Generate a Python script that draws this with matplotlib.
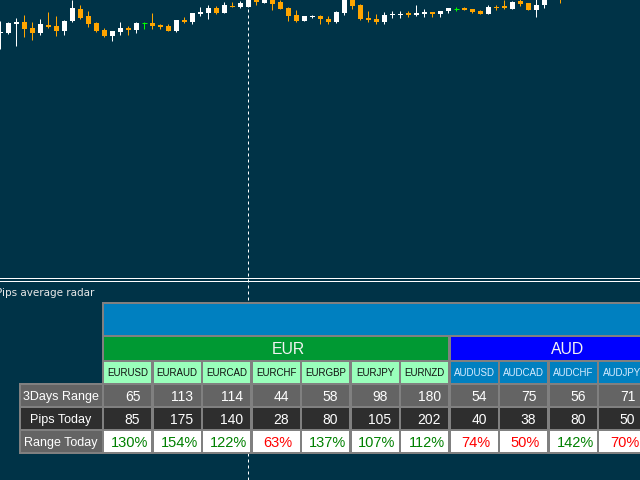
import numpy as np
import matplotlib
matplotlib.use('Agg')
import matplotlib.pyplot as plt
from matplotlib.patches import Rectangle

# --- price bars (EURUSD M-chart) ---
opens = [1.0967, 1.0967, 1.0976, 1.0978, 1.0972, 1.0967, 1.0975, 1.0974, 1.0969, 1.0979,
         1.0991, 1.0984, 1.0977, 1.0970, 1.0964, 1.0968, 1.0972, 1.0970, 1.0977, 1.0977,
         1.0975, 1.0974, 1.0969, 1.0980, 1.0978, 1.0986, 1.0987, 1.0992, 1.0987, 1.0994,
         1.0993, 1.0993, 1.1001, 1.0997, 1.1001, 1.0998, 1.0992, 1.0985, 1.0979, 1.0983,
         1.0984, 1.0981, 1.0978, 1.0987, 1.1002, 1.0995, 1.0982, 1.0981, 1.0978, 1.0985,
         1.0985, 1.0987, 1.0985, 1.0986, 1.0988, 1.0986, 1.0989, 1.0991, 1.0992, 1.0991,
         1.0989, 1.0986, 1.0993, 1.0994, 1.0991, 1.0999, 1.0997, 1.0990, 1.0995, 1.1005,
         1.1008]
highs = [1.0979, 1.0978, 1.0982, 1.0985, 1.0978, 1.0981, 1.0988, 1.0984, 1.0980, 1.1000,
         1.0995, 1.0989, 1.0978, 1.0972, 1.0969, 1.0978, 1.0974, 1.0978, 1.0978, 1.0987,
         1.0976, 1.0976, 1.0980, 1.0983, 1.0987, 1.0993, 1.0995, 1.0994, 1.0998, 1.0998,
         1.0999, 1.1002, 1.1002, 1.1003, 1.1002, 1.1000, 1.0993, 1.0990, 1.0984, 1.0985,
         1.0985, 1.0984, 1.0989, 1.1001, 1.1003, 1.0996, 1.0989, 1.0986, 1.0988, 1.0989,
         1.0989, 1.0989, 1.0995, 1.0991, 1.0988, 1.0989, 1.0992, 1.0993, 1.0993, 1.0991,
         1.0990, 1.0995, 1.0995, 1.1000, 1.0999, 1.1001, 1.0997, 1.1001, 1.1006, 1.1016,
         1.1012]
lows = [1.0951, 1.0966, 1.0954, 1.0963, 1.0960, 1.0965, 1.0972, 1.0964, 1.0965, 1.0978,
        1.0981, 1.0973, 1.0968, 1.0963, 1.0959, 1.0965, 1.0965, 1.0967, 1.0971, 1.0971,
        1.0971, 1.0969, 1.0968, 1.0977, 1.0976, 1.0984, 1.0981, 1.0986, 1.0987, 1.0993,
        1.0992, 1.0993, 1.0995, 1.0997, 1.0990, 1.0991, 1.0979, 1.0978, 1.0979, 1.0982,
        1.0976, 1.0976, 1.0977, 1.0985, 1.0991, 1.0980, 1.0978, 1.0976, 1.0976, 1.0982,
        1.0982, 1.0983, 1.0984, 1.0983, 1.0983, 1.0983, 1.0987, 1.0989, 1.0990, 1.0987,
        1.0986, 1.0986, 1.0990, 1.0991, 1.0991, 1.0994, 1.0990, 1.0983, 1.0992, 1.1004,
        1.0997]
closes = [1.0968, 1.0977, 1.0978, 1.0971, 1.0967, 1.0976, 1.0973, 1.0969, 1.0979, 1.0992,
          1.0982, 1.0976, 1.0969, 1.0964, 1.0969, 1.0972, 1.0970, 1.0977, 1.0977, 1.0974,
          1.0973, 1.0969, 1.0980, 1.0978, 1.0987, 1.0988, 1.0992, 1.0987, 1.0995, 1.0993,
          1.0997, 1.1000, 1.0998, 1.1002, 1.0996, 1.0991, 1.0984, 1.0979, 1.0984, 1.0984,
          1.0981, 1.0978, 1.0988, 1.1000, 1.0994, 1.0981, 1.0980, 1.0978, 1.0985, 1.0986,
          1.0986, 1.0985, 1.0987, 1.0988, 1.0986, 1.0989, 1.0992, 1.0991, 1.0990, 1.0988,
          1.0986, 1.0993, 1.0992, 1.0992, 1.0998, 1.0996, 1.0990, 1.0995, 1.1004, 1.1014,
          1.1002]
cursor_bar = 31

# --- radar table ---
groups = ["EUR", "AUD"]
symbols = ["EURUSD", "EURAUD", "EURCAD", "EURCHF", "EURGBP", "EURJPY", "EURNZD",
           "AUDUSD", "AUDCAD", "AUDCHF", "AUDJPY"]
row_labels = ["3Days Range", "Pips Today", "Range Today"]
three_days = [65, 113, 114, 44, 58, 98, 180, 54, 75, 56, 71]
pips_today = [85, 175, 140, 28, 80, 105, 202, 40, 38, 80, 50]
range_today = [130, 154, 122, 63, 137, 107, 112, 74, 50, 142, 70]

BG = "#003347"
BULL, BEAR, DOJI = "#ffffff", "#ffa500", "#00ff00"
FRAME = "#808080"
GREY, DARK = "#646464", "#2e2e2e"
BAND = "#0080c0"
GROUP_COL = {"EUR": "#009933", "AUD": "#0000ff"}
SYM_BG = {"EUR": "#99ffbb", "AUD": "#0080c0"}
SYM_FG = {"EUR": "#101010", "AUD": "#d8ecff"}
FONT = "Liberation Sans"

fig = plt.figure(figsize=(6.4, 4.8), dpi=100, facecolor=BG)

# candles
ax_c = fig.add_axes([0, 1 - 277 / 480, 1, 277 / 480])
ax_c.set_xlim(-0.04, 79.96)
ax_c.set_ylim(1.1000 - 0.0277, 1.1000)
ax_c.axis("off")
o, h, l, c = map(np.array, (opens, highs, lows, closes))
idx = np.arange(len(o))
cols = np.where(c > o, BULL, np.where(c < o, BEAR, DOJI))
ax_c.vlines(idx, l, h, colors=cols, lw=0.72)
body = c != o
ax_c.bar(idx[body], np.abs(c - o)[body], bottom=np.minimum(o, c)[body],
         width=0.625, color=cols[body], lw=0)
ax_c.hlines(o[~body], idx[~body] - 0.3125, idx[~body] + 0.3125, colors=cols[~body], lw=0.72)

# overlay in pixel coords
ax = fig.add_axes([0, 0, 1, 1])
ax.set_xlim(0, 640)
ax.set_ylim(480, 0)
ax.axis("off")

cx = ax_c.transData.transform((cursor_bar, 1.0))[0]
ax.axvline(cx, color="white", lw=0.72, ls=(0, (3, 3)), zorder=1)

for yy in (278, 281):
    ax.axhline(yy, color="white", lw=0.72, zorder=2)
ax.text(-3.5, 296, "Pips average radar", color="#e8e8e8", fontsize=7.5,
        family="DejaVu Sans", va="baseline", ha="left", zorder=3)

def rect(x0, y0, x1, y1, fc):
    ax.add_patch(Rectangle((x0, y0), x1 - x0, y1 - y0, fc=fc, ec="none", zorder=2))

# frames
rect(102, 302, 640, 454, FRAME)
rect(19, 383, 104, 454, FRAME)
rect(104, 304, 640, 335, BAND)

pitch, cw = 49.5, 47
rows = [(385, 406), (408, 429), (431, 452)]
lefts = [104 + pitch * j for j in range(len(symbols))]

# group headers
for g in groups:
    js = [j for j, s in enumerate(symbols) if s.startswith(g)]
    x0 = lefts[js[0]]
    x1 = lefts[js[-1]] + cw if g != groups[-1] else 640
    rect(x0, 337, x1, 360, GROUP_COL[g])
tx = {"EUR": 288, "AUD": 568}
for g in groups:
    ax.text(tx[g], 348.5, g, color="#f4f4f4", fontsize=11.3, family=FONT,
            ha="center", va="center_baseline", zorder=3)

# row labels
for (y0, y1), lab, bg in zip(rows, row_labels, [GREY, DARK, GREY]):
    rect(21, y0, 102, y1, bg)
    ax.text(61, (y0 + y1) / 2, lab, color="white", fontsize=9, family=FONT,
            ha="center", va="center_baseline", zorder=3)

for j, s in enumerate(symbols):
    g = s[:3]
    x0 = lefts[j]
    xc = x0 + cw / 2
    rect(x0, 362, x0 + cw, 383, SYM_BG[g])
    ax.text(xc, 372, s, color=SYM_FG[g], fontsize=7, family=FONT,
            ha="center", va="center_baseline", zorder=3)
    for (y0, y1), bg, val in zip(rows[:2], [GREY, DARK], [three_days[j], pips_today[j]]):
        rect(x0, y0, x0 + cw, y1, bg)
        ax.text(xc + 5, (y0 + y1) / 2, str(val), color="white", fontsize=10,
                family=FONT, ha="center", va="center_baseline", zorder=3)
    y0, y1 = rows[2]
    rect(x0, y0, x0 + cw, y1, "white")
    pc = "#008000" if range_today[j] >= 100 else "#ff0000"
    ax.text(xc + 2, (y0 + y1) / 2, f"{range_today[j]}%", color=pc, fontsize=10.5,
            family=FONT, ha="center", va="center_baseline", zorder=3)

fig.savefig("out.png", dpi=100, facecolor=BG)
